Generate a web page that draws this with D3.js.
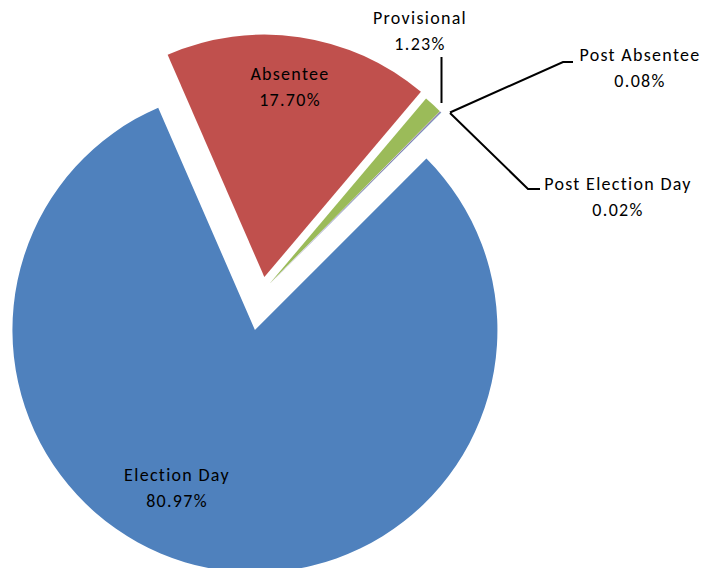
<!DOCTYPE html>
<html>
<head>
<meta charset="utf-8">
<script src="https://cdn.jsdelivr.net/npm/d3@7"></script>
<style>
  html, body { margin: 0; padding: 0; background: #fff; }
  svg { display: block; }
  text { font-family: Carlito, Calibri, Lato, "Open Sans", sans-serif; }
</style>
</head>
<body>
<svg id="chart" width="705" height="568"></svg>
<script>
// ---- data ----
const categories = ["Election Day", "Absentee", "Provisional", "Post Absentee", "Post Election Day"];
const values = [80.97, 17.70, 1.23, 0.08, 0.02];
const valueLabels = ["80.97%", "17.70%", "1.23%", "0.08%", "0.02%"];

// ---- style / layout ----
const colors = ["#4F81BD", "#C0504D", "#9BBB59", "#8064A2", "#4BACC6"];
const explode = [39, 14.8, 10.8, 10.8, 10.8];
const center = [262.2, 291.7];
const radius = 242.5;
const startDeg = 45;
const fontSize = 18;
const letterSpacing = 1.3;
const lineGap = 26;
// label anchor (center of first line) and leader lines
const labelPos = [[177, 475], [290, 74], [420, 18], [640, 55], [618, 184]];
const leaders = [null, null,
  [[441.5, 103], [441.5, 57]],
  [[450, 112.5], [563, 62], [573, 62]],
  [[450, 113], [528, 189], [540, 189]]
];

const svg = d3.select("#chart");
const toRad = d => d * Math.PI / 180;

const pie = d3.pie().sort(null).value(d => d)
  .startAngle(toRad(startDeg)).endAngle(toRad(startDeg + 360));
const arcs = pie(values);
const arcGen = d3.arc().innerRadius(0).outerRadius(radius);

const g = svg.append("g").attr("transform", `translate(${center[0]},${center[1]})`);
g.selectAll("path.slice")
  .data(arcs)
  .join("path")
  .attr("class", "slice")
  .attr("d", arcGen)
  .attr("fill", (d, i) => colors[i])
  .attr("transform", (d, i) => {
    const mid = (d.startAngle + d.endAngle) / 2;
    return `translate(${explode[i] * Math.sin(mid)},${-explode[i] * Math.cos(mid)})`;
  });

// leader lines
leaders.forEach(pts => {
  if (!pts) return;
  svg.append("path")
    .attr("d", d3.line()(pts))
    .attr("fill", "none")
    .attr("stroke", "#000")
    .attr("stroke-width", 2);
});

// labels
categories.forEach((c, i) => {
  const t = svg.append("text")
    .attr("x", labelPos[i][0])
    .attr("y", labelPos[i][1])
    .attr("text-anchor", "middle")
    .attr("dominant-baseline", "central")
    .attr("font-size", fontSize)
    .attr("letter-spacing", letterSpacing)
    .attr("fill", "#000");
  t.append("tspan").attr("x", labelPos[i][0]).attr("dy", 0).text(c);
  t.append("tspan").attr("x", labelPos[i][0]).attr("dy", lineGap).text(valueLabels[i]);
});
</script>
</body>
</html>
